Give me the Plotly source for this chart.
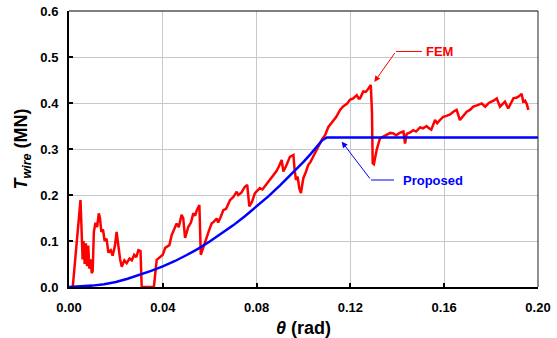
import plotly.graph_objects as go

# ---- data ----
fem_theta = [0.0016, 0.0032, 0.0042, 0.0049, 0.0054, 0.0058, 0.0062, 0.0067, 0.0072, 0.0077, 0.0082, 0.0087,
             0.0092, 0.0097, 0.0101, 0.0106, 0.0113, 0.0120, 0.0127, 0.0132, 0.0138, 0.0145, 0.0152, 0.0160,
             0.0168, 0.0178, 0.0186, 0.0196, 0.0203, 0.0210, 0.0218, 0.0225, 0.0236, 0.0246, 0.0258, 0.0268,
             0.0278, 0.0287, 0.0296, 0.0305, 0.0310, 0.0355, 0.0362, 0.0374, 0.0388, 0.0400, 0.0410, 0.0420,
             0.0428, 0.0438, 0.0448, 0.0459, 0.0468, 0.0480, 0.0487, 0.0495, 0.0509, 0.0520, 0.0530, 0.0538,
             0.0545, 0.0556, 0.0562, 0.0572, 0.0580, 0.0595, 0.0608, 0.0618, 0.0630, 0.0636, 0.0645, 0.0658,
             0.0670, 0.0687, 0.0700, 0.0715, 0.0722, 0.0735, 0.0750, 0.0760, 0.0769, 0.0780, 0.0793, 0.0805,
             0.0814, 0.0825, 0.0840, 0.0855, 0.0871, 0.0885, 0.0895, 0.0907, 0.0914, 0.0925, 0.0942, 0.0957,
             0.0962, 0.0968, 0.0975, 0.0982, 0.0989, 0.0999, 0.1010, 0.1020, 0.1030, 0.1042, 0.1055, 0.1070,
             0.1080, 0.1092, 0.1106, 0.1127, 0.1140, 0.1156, 0.1170, 0.1185, 0.1198, 0.1212, 0.1227, 0.1235,
             0.1241, 0.1255, 0.1265, 0.1275, 0.1287, 0.1292, 0.1295, 0.1300, 0.1312, 0.1326, 0.1340, 0.1355,
             0.1370, 0.1383, 0.1395, 0.1410, 0.1426, 0.1433, 0.1440, 0.1455, 0.1468, 0.1480, 0.1497, 0.1510,
             0.1525, 0.1535, 0.1545, 0.1561, 0.1570, 0.1580, 0.1596, 0.1610, 0.1625, 0.1639, 0.1653, 0.1667,
             0.1680, 0.1696, 0.1710, 0.1724, 0.1740, 0.1760, 0.1775, 0.1790, 0.1810, 0.1824, 0.1838, 0.1859,
             0.1873, 0.1895, 0.1910, 0.1920, 0.1930, 0.1937, 0.1945, 0.1952, 0.1959]
fem_T = [0.000, 0.100, 0.160, 0.189, 0.120, 0.060, 0.100, 0.050, 0.095, 0.045, 0.090, 0.040,
         0.060, 0.030, 0.035, 0.120, 0.140, 0.130, 0.160, 0.150, 0.120, 0.125, 0.100, 0.105,
         0.075, 0.080, 0.068, 0.090, 0.120, 0.085, 0.060, 0.044, 0.058, 0.052, 0.062, 0.058,
         0.070, 0.065, 0.080, 0.078, 0.000, 0.000, 0.000, 0.059, 0.066, 0.070, 0.085, 0.088,
         0.091, 0.113, 0.125, 0.138, 0.130, 0.157, 0.150, 0.107, 0.131, 0.140, 0.160, 0.155,
         0.167, 0.178, 0.070, 0.085, 0.102, 0.120, 0.138, 0.142, 0.149, 0.140, 0.150, 0.167,
         0.170, 0.189, 0.195, 0.207, 0.200, 0.205, 0.218, 0.222, 0.175, 0.185, 0.204, 0.210,
         0.215, 0.212, 0.222, 0.232, 0.240, 0.252, 0.262, 0.276, 0.251, 0.262, 0.283, 0.287,
         0.255, 0.233, 0.240, 0.215, 0.204, 0.236, 0.250, 0.265, 0.272, 0.283, 0.297, 0.312,
         0.322, 0.330, 0.348, 0.363, 0.370, 0.385, 0.393, 0.398, 0.407, 0.410, 0.417, 0.410,
         0.410, 0.425, 0.424, 0.430, 0.439, 0.380, 0.269, 0.267, 0.298, 0.323, 0.327, 0.330,
         0.335, 0.334, 0.330, 0.335, 0.338, 0.312, 0.333, 0.336, 0.341, 0.338, 0.347, 0.345,
         0.350, 0.345, 0.342, 0.363, 0.356, 0.362, 0.370, 0.372, 0.375, 0.381, 0.385, 0.363,
         0.372, 0.381, 0.385, 0.392, 0.395, 0.399, 0.392, 0.400, 0.405, 0.410, 0.392, 0.403,
         0.388, 0.410, 0.412, 0.415, 0.420, 0.403, 0.405, 0.398, 0.385]

prop_theta = [0.000, 0.005, 0.010, 0.015, 0.020, 0.025, 0.030, 0.035, 0.040, 0.045, 0.050, 0.055,
              0.060, 0.065, 0.070, 0.075, 0.080, 0.085, 0.090, 0.095, 0.100, 0.103, 0.106, 0.108,
              0.110, 0.200]
prop_T = [0.000, 0.001, 0.003, 0.006, 0.011, 0.018, 0.026, 0.035, 0.045, 0.056, 0.069, 0.083,
          0.099, 0.116, 0.134, 0.154, 0.175, 0.197, 0.221, 0.246, 0.272, 0.289, 0.308, 0.319,
          0.325, 0.325]

x_ticks = [0.00, 0.04, 0.08, 0.12, 0.16, 0.20]
x_tick_labels = ["0.00", "0.04", "0.08", "0.12", "0.16", "0.20"]
y_ticks = [0.0, 0.1, 0.2, 0.3, 0.4, 0.5, 0.6]
y_tick_labels = ["0.0", "0.1", "0.2", "0.3", "0.4", "0.5", "0.6"]

FONT = "Arial, Liberation Sans, sans-serif"

fig = go.Figure()
fig.add_trace(go.Scatter(x=fem_theta, y=fem_T, mode="lines", name="FEM",
                         line=dict(color="#ff0000", width=2.5), showlegend=False))
fig.add_trace(go.Scatter(x=prop_theta, y=prop_T, mode="lines", name="Proposed",
                         line=dict(color="#0000ff", width=2.5), showlegend=False))

# annotation leader lines
fig.add_shape(type="line", x0=0.1394, y0=0.512, x1=0.1505, y1=0.512,
              line=dict(color="#ff0000", width=1))
fig.add_annotation(x=0.1302, y=0.4457, ax=0.1394, ay=0.512, axref="x", ayref="y",
                   xref="x", yref="y", text="", showarrow=True, arrowhead=2, arrowsize=1.2,
                   arrowwidth=1, arrowcolor="#ff0000")
fig.add_annotation(x=0.1580, y=0.512, xref="x", yref="y", text="<b>FEM</b>", showarrow=False,
                   font=dict(family=FONT, size=13, color="#ff0000"))

fig.add_shape(type="line", x0=0.1288, y0=0.2326, x1=0.1386, y1=0.2326,
              line=dict(color="#0000ff", width=1))
fig.add_annotation(x=0.1163, y=0.316, ax=0.1288, ay=0.2326, axref="x", ayref="y",
                   xref="x", yref="y", text="", showarrow=True, arrowhead=2, arrowsize=1.2,
                   arrowwidth=1, arrowcolor="#0000ff")
fig.add_annotation(x=0.1552, y=0.2326, xref="x", yref="y", text="<b>Proposed</b>", showarrow=False,
                   font=dict(family=FONT, size=13, color="#0000ff"))

# thin top and right borders
fig.add_shape(type="line", xref="paper", yref="paper", x0=0, x1=1, y0=1, y1=1,
              line=dict(color="#000000", width=1))
fig.add_shape(type="line", xref="paper", yref="paper", x0=1, x1=1, y0=0, y1=1,
              line=dict(color="#222222", width=1))

fig.update_xaxes(range=[0, 0.2], tickvals=x_ticks, ticktext=x_tick_labels, automargin=False,
                 showgrid=True, gridcolor="#c8c8c8", gridwidth=1,
                 showline=True, linecolor="#000000", linewidth=2,
                 ticks="inside", ticklen=4, tickwidth=2, tickcolor="#000000",
                 zeroline=False, ticklabelstandoff=7,
                 tickfont=dict(family=FONT, size=13, color="#000000", weight="bold"),
                 title=dict(text="<b><i>θ</i> (rad)</b>", standoff=10,
                            font=dict(family=FONT, size=18, color="#000000")))
fig.update_yaxes(range=[0, 0.6], tickvals=y_ticks, ticktext=y_tick_labels, automargin=False,
                 showgrid=True, gridcolor="#c8c8c8", gridwidth=1,
                 showline=True, linecolor="#000000", linewidth=2,
                 ticks="inside", ticklen=4, tickwidth=2, tickcolor="#000000",
                 zeroline=False, ticklabelstandoff=6,
                 tickfont=dict(family=FONT, size=13, color="#000000", weight="bold"),
                 title=dict(text="<b><i>T</i><sub><i>wire</i></sub> (MN)</b>", standoff=8,
                            font=dict(family=FONT, size=18, color="#000000")))

fig.update_layout(width=557, height=338, margin=dict(l=69, r=19, t=11, b=51),
                  paper_bgcolor="white", plot_bgcolor="white",
                  font=dict(family=FONT))

fig.write_html("out.html", config={"displayModeBar": False},
               post_script="document.body.style.margin='0px';")
